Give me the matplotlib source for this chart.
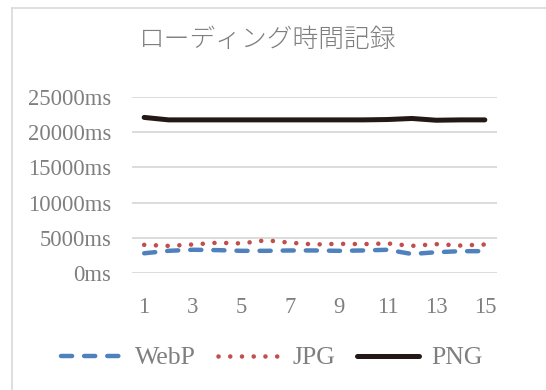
import numpy as np
import matplotlib
matplotlib.use("Agg")
import matplotlib.pyplot as plt
from matplotlib.lines import Line2D

# data ==================================================================================================================
runs = list(range(1, 16))
webp = [2800, 3150, 3300, 3250, 3150, 3150, 3200, 3200, 3150, 3200, 3300, 2700, 2950, 3100, 3100]
jpg = [4000, 3850, 4050, 4300, 4200, 4650, 4300, 4050, 4150, 4100, 4200, 3850, 4100, 3900, 4050]
png = [22100, 21750, 21750, 21750, 21750, 21750, 21750, 21750, 21750, 21750, 21800, 21950, 21700, 21750, 21750]
xticks = [1, 3, 5, 7, 9, 11, 13, 15]
yticks = [0, 5000, 10000, 15000, 20000, 25000]

TXT = "#7f7f7f"
GRID = "#d9d9d9"

plt.rcParams['font.family'] = ['Liberation Serif', 'Noto Sans CJK JP']

fig = plt.figure(figsize=(5.46, 3.90), dpi=100)
ax = fig.add_axes([132/546, 117/390, 365/546, 176/390])

ax.plot(runs, webp, color="#4f81bd", lw=3.2, dash_capstyle='round', dashes=[2.5, 2.7], label="WebP")
ax.plot(runs, jpg, color="#c0504d", lw=3.3, dash_capstyle='round', dashes=[0.01, 2.55], label="JPG")
ax.plot(runs, png, color="#231815", lw=3.6, solid_capstyle='round', label="PNG")

ax.set_xlim(0.5, 15.5)
ax.set_ylim(0, 25000)
ax.set_xticks(xticks)
ax.set_yticks(yticks)
ax.set_yticklabels([f"{v}ms" for v in yticks])
ax.tick_params(axis='both', length=0, labelsize=16.3, labelcolor=TXT)
ax.tick_params(axis='y', pad=15)
ax.tick_params(axis='x', pad=17)
ax.grid(axis='y', color=GRID, lw=1.3)
ax.set_axisbelow(True)
for s in ax.spines.values():
    s.set_visible(False)

fig.text(268/546, 1 - 40/390, "ローディング時間記録", ha='center', va='center',
         fontsize=18.5, color=TXT, family=['Noto Sans CJK JP'], weight='light')

fig.legend(loc='center', bbox_to_anchor=(272/546, 1 - 358/390), ncol=3, frameon=False,
           fontsize=18.5, labelcolor=TXT, handlelength=2.4, handletextpad=0.5, columnspacing=0.85)

# chart frame
fig.add_artist(Line2D([12/546, 12/546], [0, 1 - 8/390], color=GRID, lw=1.2, transform=fig.transFigure))
fig.add_artist(Line2D([12/546, 1], [1 - 8/390, 1 - 8/390], color=GRID, lw=1.2, transform=fig.transFigure))

fig.savefig("out.png", dpi=100)
